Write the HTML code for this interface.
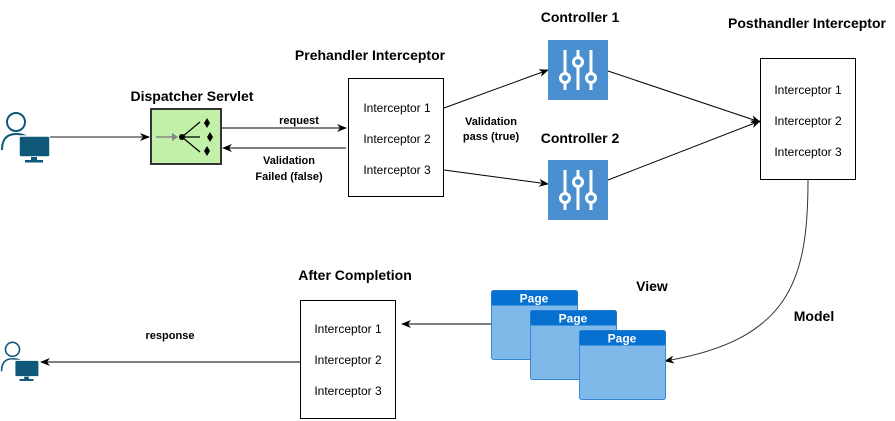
<!DOCTYPE html>
<html><head><meta charset="utf-8"><style>
html,body{margin:0;padding:0;background:#fff;width:895px;height:421px;overflow:hidden}
text{font-family:"Liberation Sans",Arial,sans-serif}
.t{font-size:14px;font-weight:bold;text-anchor:middle;fill:#000}
.s{font-size:12px;text-anchor:middle;fill:#000}
.b{font-size:11px;font-weight:bold;text-anchor:middle;fill:#000}
</style></head><body>
<svg width="895" height="421" viewBox="0 0 895 421" xmlns="http://www.w3.org/2000/svg">
<defs>
<marker id="a" markerWidth="10" markerHeight="8" refX="9" refY="4" orient="auto" markerUnits="userSpaceOnUse">
<path d="M0,0 L10,4 L0,8 L3,4 z" fill="#000"/></marker>
<g id="user">
<circle cx="16" cy="12" r="9" fill="#fff" stroke="#10587a" stroke-width="2"/>
<path d="M2,40 Q2,24 16,24 Q28,24 31,32" fill="#fff" stroke="#10587a" stroke-width="2"/>
<rect x="19" y="26" width="31" height="21" rx="2" fill="#10587a" stroke="#fff" stroke-width="1.5"/>
<rect x="31" y="47" width="6" height="4" fill="#10587a"/><rect x="25" y="50" width="18" height="2.5" fill="#10587a"/>
</g>
<g id="ctl">
<rect width="60" height="60" fill="#4a8fd0"/>
<g stroke="#fff" stroke-width="3" fill="#4a8fd0">
<line x1="17" y1="10" x2="17" y2="50"/><line x1="30" y1="10" x2="30" y2="50"/><line x1="43" y1="10" x2="43" y2="50"/>
<circle cx="17" cy="38" r="4.5"/><circle cx="30" cy="22" r="4.5"/><circle cx="43" cy="38" r="4.5"/>
</g></g>
<g id="page">
<rect x="0.5" y="0.5" width="86" height="69" rx="2" fill="#7fb9ea" stroke="#3a86d4"/>
<rect x="0.5" y="0.5" width="86" height="15" rx="2" fill="#0670d0"/>
<text x="43" y="12.5" style="font-size:12px;font-weight:bold;fill:#fff;text-anchor:middle">Page</text>
</g>
</defs>

<use href="#user" x="0" y="110"/>
<line x1="50" y1="137" x2="149" y2="137" stroke="#666" stroke-width="1.5" marker-end="url(#a)"/>

<text class="t" x="192" y="101">Dispatcher Servlet</text>
<rect x="151" y="109" width="70" height="55" fill="#c2f0a8" stroke="#333" stroke-width="2"/>
<line x1="156" y1="137" x2="176" y2="137" stroke="#888" stroke-width="1.5"/>
<path d="M172,133 L178,137 L172,141z" fill="#888"/>
<circle cx="182" cy="137" r="3" fill="#000"/>
<g stroke="#000" stroke-width="1.2"><line x1="182" y1="137" x2="200" y2="122"/><line x1="182" y1="137" x2="200" y2="137"/><line x1="182" y1="137" x2="200" y2="152"/></g>
<path d="M207,118 l3,5 l-3,5 l-3,-5z M210,132 l3,5 l-3,5 l-3,-5z M207,146 l3,5 l-3,5 l-3,-5z" fill="#000"/>

<line x1="222" y1="128" x2="346" y2="128" stroke="#000" marker-end="url(#a)"/>
<text class="b" x="299" y="124">request</text>
<line x1="346" y1="148" x2="223" y2="148" stroke="#000" marker-end="url(#a)"/>
<text class="b" x="289" y="164">Validation</text>
<text class="b" x="289" y="180">Failed (false)</text>

<text class="t" x="370" y="60">Prehandler Interceptor</text>
<rect x="348.5" y="78.5" width="95" height="118" fill="#fff" stroke="#000"/>
<text class="s" x="397" y="112">Interceptor 1</text>
<text class="s" x="397" y="143">Interceptor 2</text>
<text class="s" x="397" y="174">Interceptor 3</text>

<line x1="444" y1="108" x2="548" y2="70" stroke="#000" marker-end="url(#a)"/>
<line x1="444" y1="170" x2="548" y2="184" stroke="#000" marker-end="url(#a)"/>
<text class="b" x="491" y="125">Validation</text>
<text class="b" x="491" y="140">pass (true)</text>

<text class="t" x="580" y="22">Controller 1</text>
<use href="#ctl" x="548" y="40"/>
<text class="t" x="580" y="143">Controller 2</text>
<use href="#ctl" x="548" y="160"/>

<line x1="608" y1="71" x2="760" y2="122" stroke="#000" marker-end="url(#a)"/>
<line x1="608" y1="180" x2="760" y2="121" stroke="#000" marker-end="url(#a)"/>

<text class="t" x="807" y="28">Posthandler Interceptor</text>
<rect x="760.5" y="58.5" width="95" height="121" fill="#fff" stroke="#000"/>
<text class="s" x="808" y="94">Interceptor 1</text>
<text class="s" x="808" y="125">Interceptor 2</text>
<text class="s" x="808" y="156">Interceptor 3</text>

<path d="M808,180 C808,280 790,340 665,361" fill="none" stroke="#333" marker-end="url(#a)"/>
<text class="t" x="814" y="321">Model</text>

<text class="t" x="652" y="291">View</text>
<use href="#page" x="491" y="290"/>
<use href="#page" x="530" y="310"/>
<use href="#page" x="579" y="330"/>

<line x1="491" y1="324" x2="402" y2="324" stroke="#000" marker-end="url(#a)"/>

<text class="t" x="355" y="280">After Completion</text>
<rect x="300.5" y="300.5" width="95" height="118" fill="#fff" stroke="#000"/>
<text class="s" x="348" y="333">Interceptor 1</text>
<text class="s" x="348" y="364">Interceptor 2</text>
<text class="s" x="348" y="395">Interceptor 3</text>

<line x1="300" y1="362" x2="41" y2="362" stroke="#000" marker-end="url(#a)"/>
<text class="b" x="170" y="339">response</text>
<g transform="translate(0,340) scale(0.78)"><use href="#user"/></g>
</svg>
</body></html>
